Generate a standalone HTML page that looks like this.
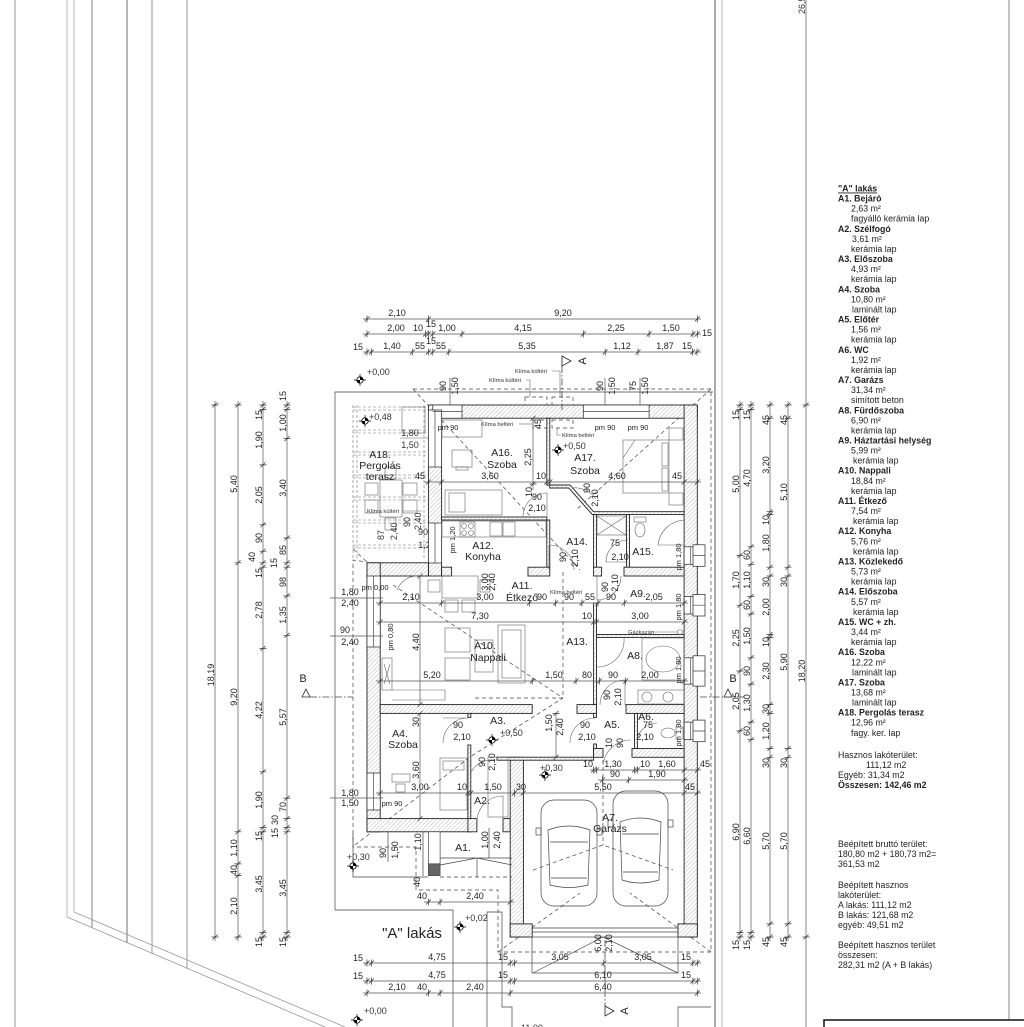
<!DOCTYPE html>
<html><head><meta charset="utf-8">
<style>
html,body{margin:0;padding:0;background:#fff}
svg{display:block}
text{font-family:"Liberation Sans",Arial,sans-serif;fill:#222}
.d{font-size:9px;fill:#333}
.s{font-size:5.8px;fill:#333}
.p{font-size:7.5px;fill:#333}
.r{font-size:10.5px;fill:#222}
.lg{font-size:8.8px;fill:#111}
.b{font-weight:bold}
.dl{stroke:#555;stroke-width:.7;fill:none}
.tk{stroke:#333;stroke-width:.7;fill:none}
.w{fill:url(#h);stroke:#222;stroke-width:.9}
.wn{fill:#fff;stroke:#222;stroke-width:.7}
.ln{stroke:#444;stroke-width:.7;fill:none}
.fn{stroke:#666;stroke-width:.6;fill:none}
.ds{stroke:#444;stroke-width:.7;fill:none;stroke-dasharray:4 3}
.dd{stroke:#444;stroke-width:.8;fill:none;stroke-dasharray:7 2 1.5 2}
</style></head><body>
<svg width="1024" height="1027" viewBox="0 0 1024 1027" xmlns="http://www.w3.org/2000/svg">
<defs>
<pattern id="h" width="3" height="3" patternUnits="userSpaceOnUse" patternTransform="rotate(45)"><rect width="3" height="3" fill="#fff"/><line x1="0" y1="0" x2="0" y2="3" stroke="#999" stroke-width="0.7"/></pattern>
<path id="th" d="M-2.5,2.5L2.5,-2.5M0,-3.5V3.5"/>
<path id="tv" d="M-2.5,2.5L2.5,-2.5M-3.5,0H3.5"/>
<g id="lv"><path d="M-6,0H6M0,-6V6" stroke="#000" stroke-width=".7"/><circle r="3.2" fill="#fff" stroke="#000" stroke-width=".8"/><path d="M0,0V-3.2A3.2,3.2 0 0 1 3.2,0ZM0,0V3.2A3.2,3.2 0 0 1 -3.2,0Z" fill="#000"/></g>
</defs>

<!-- left site lines -->
<g fill="none" stroke-width="1.2">
<line x1="15" y1="0" x2="15" y2="1027" stroke="#aaa"/>
<line x1="67" y1="0" x2="67" y2="917" stroke="#c4c4c4"/>
<line x1="74" y1="0" x2="74" y2="912" stroke="#c4c4c4"/>
<line x1="92" y1="0" x2="92" y2="928" stroke="#999"/>
<line x1="127" y1="0" x2="127" y2="943" stroke="#888"/>
<line x1="152" y1="0" x2="152" y2="954" stroke="#aaa"/>
<line x1="187" y1="0" x2="187" y2="969" stroke="#aaa"/>
<line x1="67" y1="917" x2="325" y2="1027" stroke="#999" stroke-width=".8"/>
<line x1="74" y1="912" x2="345" y2="1027" stroke="#999" stroke-width=".8"/>
</g>
<!-- right lines -->
<line x1="715" y1="0" x2="715" y2="1027" stroke="#aaa" stroke-width="2"/>
<line x1="722" y1="0" x2="722" y2="1027" stroke="#bbb" stroke-width="1"/>
<line x1="806" y1="0" x2="806" y2="1027" stroke="#555" stroke-width=".7"/>
<line x1="1009" y1="0" x2="1009" y2="1020" stroke="#888" stroke-width="1"/>
<rect x="824" y="1020" width="220" height="20" fill="none" stroke="#111" stroke-width="1.5"/>
<text class="d" transform="translate(802,14) rotate(-90)" y="3">26,50</text>

<!-- site outline -->
<path class="ln" d="M335,910V392H713"/>
<path class="ln" d="M335,910H453V1027"/>
<path class="ln" d="M487,1027V912H502V1007H512V1027"/>
<path class="ln" d="M678,1027V1007H711"/>
<!-- roof dashed -->
<path class="ds" d="M413,389H711V952H498V890H416V847H353V560L367,562"/>
<path class="ds" d="M413,389L580,570"/>
<path class="ds" d="M711,389L576,510"/>
<path class="ds" d="M393,585L563,698"/>
<path class="ds" d="M563,572V698H473"/>
<path class="ds" d="M355,845L470,757L563,698"/>
<path class="ds" d="M498,952L580,893"/>
<path class="ds" d="M711,952L630,893"/>
<path class="ds" d="M533,870L603,845L673,870"/>
<path class="ds" d="M603,760V845"/>
<path class="ds" d="M353,549L367,562"/>

<!-- pergola -->
<g stroke="#777" stroke-width=".6" fill="none" stroke-dasharray="3 2">
<path d="M353,405V560M357,405V560M424,405V560"/>
<path d="M353,407H428M353,410H428M353,430H428M353,433H428M353,452H428M353,455H428M353,475H428M353,478H428M353,497H428M353,500H428M353,520H428M353,523H428M353,545H428M353,548H428"/>
</g>
<g class="fn">
<rect x="380" y="480" width="22" height="37"/>
<rect x="365" y="483" width="13" height="12"/><rect x="365" y="500" width="13" height="13"/>
<rect x="403" y="483" width="14" height="12"/><rect x="403" y="500" width="14" height="13"/>
<rect x="385" y="467" width="11" height="12"/><rect x="385" y="518" width="11" height="12"/>
<rect x="402" y="407" width="23" height="26"/>
<path d="M400,438H428"/>
</g>
<text class="s" x="367" y="513">Klíma kültéri</text><path class="fn" d="M403,511H422"/>
<text class="d" x="410" y="436" text-anchor="middle">1,80</text>
<text class="d" x="410" y="448" text-anchor="middle">1,50</text>
<text class="r" x="380" y="458" text-anchor="middle">A18.</text>
<text class="r" x="380" y="469" text-anchor="middle">Pergolás</text>
<text class="r" x="380" y="480" text-anchor="middle">terasz</text>
<use href="#lv" x="365" y="421"/><text class="d" x="369" y="420">+0,48</text>
<text class="d" transform="translate(381,540) rotate(-90)" y="3">87</text>
<text class="d" transform="translate(394,540) rotate(-90)" y="3">2,40</text>
<text class="d" transform="translate(407,527) rotate(-90)" y="3">90</text>
<text class="d" transform="translate(418,530) rotate(-90)" y="3">2,40</text>
<text class="d" x="423" y="535" text-anchor="middle">90</text>
<text class="d" x="427" y="548" text-anchor="middle">1,20</text>

<!-- walls -->
<g class="w">
<rect x="428.4" y="405" width="268.9" height="13.2"/>
<rect x="684.1" y="405" width="13.2" height="532"/>
<rect x="428.4" y="418" width="13.2" height="158"/>
<rect x="367" y="562.8" width="61.4" height="13.2"/>
<rect x="367" y="562.8" width="13.2" height="269"/>
<rect x="367" y="818.6" width="103.8" height="13.2"/>
<rect x="467.9" y="818.6" width="9" height="13.2"/>
<rect x="503" y="818.6" width="7.2" height="13.2"/>
<rect x="510.2" y="757.3" width="13.2" height="179.7"/>
<rect x="510.2" y="923.9" width="22" height="13.1"/>
<rect x="678" y="923.9" width="19.3" height="13.1"/>
<rect x="546.8" y="418.2" width="3" height="67"/>
<rect x="441.6" y="517" width="105.2" height="3"/>
<rect x="546.8" y="520" width="3" height="47"/>
<path d="M549.8,485H570L593.6,511.7H684.1V514.6H592.3L568.7,488H549.8Z"/>
<rect x="593.6" y="514.6" width="2.9" height="52.6"/>
<rect x="626.5" y="514.6" width="3" height="52.6"/>
<rect x="441.6" y="567.2" width="10" height="8.8"/>
<rect x="528" y="567.2" width="21.8" height="8.8"/>
<rect x="593.6" y="567.2" width="8" height="8.8"/>
<rect x="624" y="567.2" width="60.1" height="8.8"/>
<rect x="593.6" y="603" width="2.9" height="101.6"/>
<rect x="596.5" y="634.5" width="87.6" height="2.9"/>
<rect x="380.2" y="704.6" width="152" height="8.8"/>
<rect x="577" y="704.6" width="19.5" height="8.8"/>
<rect x="626" y="704.6" width="58.1" height="8.8"/>
<rect x="467.9" y="713.4" width="2.9" height="4"/>
<rect x="467.9" y="745" width="2.9" height="73.6"/>
<rect x="593.6" y="713.4" width="2.9" height="4"/>
<rect x="593.6" y="744" width="2.9" height="13"/>
<rect x="634.5" y="713.4" width="2.9" height="35.1"/>
<rect x="593.6" y="748.5" width="9.4" height="8.8"/>
<rect x="632" y="748.5" width="52.1" height="8.8"/>
<rect x="497" y="757.2" width="96.6" height="3"/>
</g>
<!-- windows -->
<g class="wn">
<rect x="432.8" y="405" width="29.2" height="13.2"/>
<rect x="583.3" y="405" width="65.8" height="13.2"/>
<rect x="684.1" y="546.8" width="13.2" height="17.5"/>
<rect x="684.1" y="596.5" width="13.2" height="17.5"/>
<rect x="684.1" y="657.8" width="13.2" height="26.3"/>
<rect x="684.1" y="722.1" width="13.2" height="17.6"/>
<rect x="693" y="544.8" width="12" height="21.5"/>
<rect x="693" y="594.5" width="12" height="21.5"/>
<rect x="693" y="655.8" width="12" height="30.3"/>
<rect x="693" y="720.1" width="12" height="21.6"/>
<rect x="428.4" y="410" width="13.2" height="57"/>
<rect x="428.4" y="523" width="13.2" height="40"/>
<rect x="367" y="576" width="13.2" height="71"/>
<rect x="367" y="773" width="13.2" height="37"/>
</g>
<g class="ln">
<path d="M432.8,411.6H462M583.3,411.6H649.1M690.7,546.8V564.3M690.7,596.5V614M690.7,657.8V684.1M690.7,722.1V739.7M435,410V467M435,523V563M373.6,576V647M373.6,773V810"/>
<path d="M693,555.5H705M693,605.2H705M693,671H705M693,731H705"/>
<path d="M532,928H678M532,932H678"/>
<rect x="532" y="937" width="146" height="36"/>
<path d="M533,973L603,937L678,973"/>
</g>
<!-- outdoor/indoor units -->
<g class="ds" stroke-dasharray="3 2">
<rect x="525" y="397" width="22" height="8"/><rect x="552" y="397" width="21" height="8"/>
<rect x="533" y="420" width="14" height="8"/><rect x="552" y="420" width="21" height="8"/>
</g>
<text class="s" x="489" y="382">Klíma kültéri</text><path class="fn" d="M526,380H530V397"/>
<text class="s" x="515" y="373">Klíma kültéri</text><path class="fn" d="M552,371H560V397"/>
<text class="s" x="481" y="426">Klíma beltéri</text><path class="fn" d="M519,424H533"/>
<text class="s" x="562" y="437">Klíma beltéri</text><path class="fn" d="M557,428V435H561"/>
<text class="s" x="550" y="594">Klíma beltéri</text>
<text class="s" x="628" y="634">Gázkazán</text><circle cx="680" cy="632" r="2.5" class="fn"/><path class="fn" d="M652,632H677"/>

<!-- furniture -->
<g class="fn">
<rect x="442" y="420" width="40" height="17"/>
<rect x="452" y="450" width="20" height="17"/><rect x="456" y="467" width="12" height="3"/>
<rect x="445" y="490" width="57" height="25"/><rect x="449" y="493" width="16" height="19"/>
<rect x="623" y="440" width="46" height="53"/><rect x="662" y="443" width="6" height="23"/><rect x="662" y="468" width="6" height="23"/>
<path d="M623,458L635,440"/>
<rect x="669" y="428" width="14" height="12"/><rect x="669" y="493" width="14" height="12"/>
<rect x="597" y="516" width="29" height="19"/><path d="M597,516L626,535M626,516L597,535"/>
<rect x="634" y="517" width="12" height="5"/><ellipse cx="640" cy="530" rx="5" ry="7"/>
<path d="M684,520A28,28 0 0 0 658,545H684"/>
<rect x="442" y="521" width="104" height="16"/>
<rect x="460" y="522" width="15" height="15"/><circle cx="464" cy="526" r="2.5"/><circle cx="471" cy="526" r="2.5"/><circle cx="464" cy="533" r="2.5"/><circle cx="471" cy="533" r="2.5"/>
<rect x="490" y="522" width="12" height="14"/><rect x="503" y="522" width="12" height="14"/>
<rect x="442" y="576" width="36" height="22"/>
<rect x="445" y="600" width="13" height="12"/><rect x="462" y="600" width="13" height="12"/>
<rect x="428" y="580" width="12" height="12"/><rect x="480" y="580" width="10" height="12"/>
<rect x="445" y="628" width="25" height="24"/><rect x="445" y="658" width="25" height="22"/>
<rect x="498" y="625" width="27" height="58"/><rect x="502" y="630" width="19" height="48"/>
<rect x="475" y="640" width="18" height="32"/>
<rect x="382" y="658" width="10" height="32"/><path d="M384,664L390,684M390,664L384,684"/>
<path d="M392,690H445V700H392"/>
<rect x="642" y="638" width="42" height="42"/><ellipse cx="663" cy="659" rx="17" ry="13"/>
<path d="M597,667A27,27 0 0 0 624,638"/>
<rect x="638" y="690" width="46" height="14"/><circle cx="647" cy="697" r="5"/><circle cx="668" cy="697" r="5"/>
<rect x="676" y="727" width="7" height="12"/><ellipse cx="668" cy="733" rx="7" ry="5"/>
<rect x="440" y="758" width="27" height="52"/><rect x="443" y="761" width="21" height="9"/>
<rect x="392" y="774" width="18" height="8"/><rect x="396" y="784" width="9" height="8"/>
<rect x="488" y="757" width="20" height="60"/>
</g>
<!-- doors -->
<g class="fn">
<path d="M523,517A24,24 0 0 1 547,493M547,517V493"/>
<path d="M572,488A26,26 0 0 1 596,499"/>
<path d="M628,540A22,22 0 0 0 606,562M628,562H606"/>
<path d="M549,545A25,25 0 0 1 574,570M549,545V570"/>
<path d="M597,600A24,24 0 0 0 621,576M597,576V600"/>
<path d="M600,705A25,25 0 0 1 625,680M625,705V680"/>
<path d="M443,743A25,25 0 0 1 468,718M443,718H468"/>
<path d="M570,743A25,25 0 0 1 595,718"/>
<path d="M603,765A28,28 0 0 1 631,740"/>
<path d="M637,743A20,20 0 0 1 657,723"/>
<path d="M471,772A24,24 0 0 1 495,760"/>
<path d="M477,820A26,26 0 0 1 503,796V820"/>
<path d="M397,590A22,22 0 0 1 419,576"/>
</g>
<!-- garage cars -->
<g class="ln">
<rect x="541" y="800" width="56" height="106" rx="13"/>
<path d="M548,830Q569,822 590,830L588,885Q569,890 550,885Z"/>
<path d="M550,842H588M551,878H587"/>
<rect x="536" y="828" width="5" height="7"/><rect x="597" y="828" width="5" height="7"/>
<rect x="613" y="791" width="55" height="115" rx="13"/>
<path d="M620,822Q640,814 661,822L659,880Q640,886 622,880Z"/>
<path d="M622,834H659M623,872H658"/>
<rect x="608" y="820" width="5" height="7"/><rect x="668" y="820" width="5" height="7"/>
</g>
<!-- A1 porch -->
<g class="ln">
<rect x="428.4" y="831.8" width="11.7" height="32" fill="#fff"/>
<rect x="428.4" y="863.9" width="11.7" height="11.7" fill="#666"/>
<path d="M440,865L477,858L512,865M477,858V877M440,858H512"/>
<path d="M353,833V877H428"/>
<path d="M388,832V862M489,828V858M423,832V876"/>
</g>
<path class="ds" d="M440,877H512"/>

<!-- section marks -->
<path class="dd" d="M562,366V410"/>
<polygon points="562,356 571,361 562,366" fill="#fff" stroke="#222" stroke-width=".8"/>
<text transform="translate(582,361) rotate(-90)" text-anchor="middle" y="4" font-size="11">A</text>
<path class="dd" d="M605,940V1006"/>
<polygon points="605,1006 614,1011 605,1016" fill="#fff" stroke="#222" stroke-width=".8"/>
<text transform="translate(624,1011) rotate(-90)" text-anchor="middle" y="4" font-size="11">A</text>
<path class="dd" d="M310,697H353"/>
<polygon points="302,697 306,689 310,697" fill="#fff" stroke="#222" stroke-width=".8"/>
<text x="303" y="682" font-size="11" text-anchor="middle">B</text>
<path class="dd" d="M700,697H745"/>
<polygon points="724,697 728,689 732,697" fill="#fff" stroke="#222" stroke-width=".8"/>
<text x="733" y="682" font-size="11" text-anchor="middle">B</text>

<!-- level markers -->
<use href="#lv" x="360" y="380"/><text class="d" x="367" y="375">+0,00</text>
<use href="#lv" x="558" y="450"/><text class="d" x="563" y="449">+0,50</text>
<use href="#lv" x="492" y="740"/><text class="d" x="500" y="736">+0,50</text>
<use href="#lv" x="545" y="775"/><text class="d" x="540" y="771">+0,30</text>
<use href="#lv" x="353" y="866"/><text class="d" x="347" y="860">+0,30</text>
<use href="#lv" x="460" y="927"/><text class="d" x="465" y="921">+0,02</text>
<use href="#lv" x="357" y="1020"/><text class="d" x="364" y="1014">+0,00</text>

<!-- room labels -->
<g class="r" text-anchor="middle">
<text x="502" y="456">A16.</text><text x="502" y="468">Szoba</text>
<text x="585" y="461">A17.</text><text x="585" y="474">Szoba</text>
<text x="483" y="549">A12.</text><text x="483" y="560">Konyha</text>
<text x="577" y="545">A14.</text>
<text x="643" y="555">A15.</text>
<text x="522" y="589">A11.</text><text x="522" y="601">Étkező</text>
<text x="638" y="597">A9.</text>
<text x="485" y="649">A10.</text><text x="488" y="661">Nappali</text>
<text x="577" y="645">A13.</text>
<text x="635" y="659">A8.</text>
<text x="498" y="724">A3.</text>
<text x="612" y="728">A5.</text>
<text x="646" y="720">A6.</text>
<text x="400" y="737">A4.</text><text x="403" y="748">Szoba</text>
<text x="482" y="804">A2.</text>
<text x="610" y="821">A7.</text><text x="610" y="832">Garázs</text>
<text x="463" y="851">A1.</text>
</g>
<text x="412" y="938" font-size="15" text-anchor="middle">"A" lakás</text>

<!-- small labels -->
<g class="p" text-anchor="middle">
<text x="448" y="430">pm 90</text><text x="605" y="430">pm 90</text><text x="638" y="430">pm 90</text>
<text x="392" y="806">pm 90</text><text x="375" y="590">pm 0,00</text>
</g>
<g class="p" text-anchor="middle">
<text transform="translate(452,540) rotate(-90)" y="3">pm 1,20</text>
<text transform="translate(390,637) rotate(-90)" y="3">pm 0,80</text>
<text transform="translate(678,557) rotate(-90)" y="3">pm 1,80</text>
<text transform="translate(678,607) rotate(-90)" y="3">pm 1,80</text>
<text transform="translate(678,670) rotate(-90)" y="3">pm 1,80</text>
<text transform="translate(678,733) rotate(-90)" y="3">pm 1,80</text>
</g>

<!-- dimension lines -->
<g class="dl">
<path d="M363,319H701M363,334H701M363,352H701"/>
<path d="M363,963H701M363,981H701M363,993H701"/>
<path d="M215,401V941M238,401V941M263,401V941M287,401V941"/>
<path d="M740,401V941M751,401V941M770,401V941M788,401V941"/>
<path d="M424,482H701M376,603H688M376,622H688M376,681H688M590,770H701M598,780H688M376,793H701"/>
<path d="M533,418V490M420,576V705M420,713V819M556,713V757M450,378V405M605,378V405M640,378V405"/>
<path d="M330,598H383M330,636H383M330,798H383"/>
<path d="M424,902H514"/>
</g>
<g class="tk">
<use href="#th" x="367" y="319"/><use href="#th" x="428.4" y="319"/><use href="#th" x="697.3" y="319"/>
<use href="#th" x="367" y="334"/><use href="#th" x="425.5" y="334"/><use href="#th" x="428.4" y="334"/><use href="#th" x="432.8" y="334"/><use href="#th" x="462" y="334"/><use href="#th" x="583.3" y="334"/><use href="#th" x="649.1" y="334"/><use href="#th" x="692.9" y="334"/><use href="#th" x="697.3" y="334"/>
<use href="#th" x="367" y="352"/><use href="#th" x="371.4" y="352"/><use href="#th" x="412.3" y="352"/><use href="#th" x="428.4" y="352"/><use href="#th" x="432.8" y="352"/><use href="#th" x="448.8" y="352"/><use href="#th" x="605.2" y="352"/><use href="#th" x="638" y="352"/><use href="#th" x="692.6" y="352"/><use href="#th" x="697" y="352"/>
<use href="#th" x="367" y="963"/><use href="#th" x="371.4" y="963"/><use href="#th" x="510.2" y="963"/><use href="#th" x="514.6" y="963"/><use href="#th" x="603.8" y="963"/><use href="#th" x="692.9" y="963"/><use href="#th" x="697.3" y="963"/>
<use href="#th" x="367" y="981"/><use href="#th" x="371.4" y="981"/><use href="#th" x="510.2" y="981"/><use href="#th" x="514.6" y="981"/><use href="#th" x="692.9" y="981"/><use href="#th" x="697.3" y="981"/>
<use href="#th" x="367" y="993"/><use href="#th" x="428.4" y="993"/><use href="#th" x="440.1" y="993"/><use href="#th" x="510.2" y="993"/><use href="#th" x="697.3" y="993"/>
<use href="#th" x="428.4" y="482"/><use href="#th" x="441.6" y="482"/><use href="#th" x="546.8" y="482"/><use href="#th" x="549.8" y="482"/><use href="#th" x="684.1" y="482"/><use href="#th" x="697.3" y="482"/>
<use href="#th" x="380.2" y="603"/><use href="#th" x="441.6" y="603"/><use href="#th" x="529.3" y="603"/><use href="#th" x="555.6" y="603"/><use href="#th" x="581.9" y="603"/><use href="#th" x="598" y="603"/><use href="#th" x="624.3" y="603"/><use href="#th" x="684.2" y="603"/>
<use href="#th" x="380.2" y="622"/><use href="#th" x="593.6" y="622"/><use href="#th" x="596.5" y="622"/><use href="#th" x="684.2" y="622"/>
<use href="#th" x="380.2" y="681"/><use href="#th" x="532.2" y="681"/><use href="#th" x="576" y="681"/><use href="#th" x="599.4" y="681"/><use href="#th" x="625.7" y="681"/><use href="#th" x="684.2" y="681"/>
<use href="#th" x="593.6" y="770"/><use href="#th" x="596.5" y="770"/><use href="#th" x="634.5" y="770"/><use href="#th" x="637.4" y="770"/><use href="#th" x="684.2" y="770"/><use href="#th" x="697.3" y="770"/>
<use href="#th" x="602.4" y="780"/><use href="#th" x="628.7" y="780"/><use href="#th" x="684.2" y="780"/>
<use href="#th" x="380.2" y="793"/><use href="#th" x="467.9" y="793"/><use href="#th" x="470.8" y="793"/><use href="#th" x="514.6" y="793"/><use href="#th" x="523.4" y="793"/><use href="#th" x="684.2" y="793"/><use href="#th" x="697.3" y="793"/>
<use href="#th" x="428.4" y="902"/><use href="#th" x="440.1" y="902"/><use href="#th" x="510.2" y="902"/>
<use href="#tv" x="215" y="405"/><use href="#tv" x="215" y="937"/>
<use href="#tv" x="238" y="405"/><use href="#tv" x="238" y="562.8"/><use href="#tv" x="238" y="831.8"/><use href="#tv" x="238" y="863.9"/><use href="#tv" x="238" y="875.6"/><use href="#tv" x="238" y="937"/>
<use href="#tv" x="263" y="405"/><use href="#tv" x="263" y="409.4"/><use href="#tv" x="263" y="464.9"/><use href="#tv" x="263" y="524.8"/><use href="#tv" x="263" y="551.2"/><use href="#tv" x="263" y="562.8"/><use href="#tv" x="263" y="567.2"/><use href="#tv" x="263" y="648.5"/><use href="#tv" x="263" y="771.8"/><use href="#tv" x="263" y="827.4"/><use href="#tv" x="263" y="831.8"/><use href="#tv" x="263" y="932.6"/><use href="#tv" x="263" y="937"/>
<use href="#tv" x="287" y="405"/><use href="#tv" x="287" y="409.4"/><use href="#tv" x="287" y="438.6"/><use href="#tv" x="287" y="538"/><use href="#tv" x="287" y="562.8"/><use href="#tv" x="287" y="567.2"/><use href="#tv" x="287" y="595.9"/><use href="#tv" x="287" y="635.3"/><use href="#tv" x="287" y="798.1"/><use href="#tv" x="287" y="818.6"/><use href="#tv" x="287" y="827.4"/><use href="#tv" x="287" y="831.8"/><use href="#tv" x="287" y="932.6"/><use href="#tv" x="287" y="937"/>
<use href="#tv" x="740" y="405"/><use href="#tv" x="740" y="409.4"/><use href="#tv" x="740" y="555.5"/><use href="#tv" x="740" y="605.2"/><use href="#tv" x="740" y="671"/><use href="#tv" x="740" y="730.9"/><use href="#tv" x="740" y="932.6"/><use href="#tv" x="740" y="937"/>
<use href="#tv" x="751" y="405"/><use href="#tv" x="751" y="409.4"/><use href="#tv" x="751" y="546.8"/><use href="#tv" x="751" y="564.3"/><use href="#tv" x="751" y="596.5"/><use href="#tv" x="751" y="614"/><use href="#tv" x="751" y="657.8"/><use href="#tv" x="751" y="684.1"/><use href="#tv" x="751" y="722.1"/><use href="#tv" x="751" y="739.7"/><use href="#tv" x="751" y="932.6"/><use href="#tv" x="751" y="937"/>
<use href="#tv" x="770" y="405"/><use href="#tv" x="770" y="418.2"/><use href="#tv" x="770" y="511.7"/><use href="#tv" x="770" y="514.6"/><use href="#tv" x="770" y="567.2"/><use href="#tv" x="770" y="576"/><use href="#tv" x="770" y="634.5"/><use href="#tv" x="770" y="637.4"/><use href="#tv" x="770" y="704.6"/><use href="#tv" x="770" y="713.4"/><use href="#tv" x="770" y="748.5"/><use href="#tv" x="770" y="757.3"/><use href="#tv" x="770" y="923.9"/><use href="#tv" x="770" y="937"/>
<use href="#tv" x="788" y="405"/><use href="#tv" x="788" y="418.2"/><use href="#tv" x="788" y="567.2"/><use href="#tv" x="788" y="576"/><use href="#tv" x="788" y="748.5"/><use href="#tv" x="788" y="757.3"/><use href="#tv" x="788" y="923.9"/><use href="#tv" x="788" y="937"/>
<use href="#tv" x="806" y="405"/><use href="#tv" x="806" y="937"/>
<use href="#tv" x="533" y="418.2"/><use href="#tv" x="533" y="484"/>
<use href="#tv" x="420" y="576"/><use href="#tv" x="420" y="704.6"/><use href="#tv" x="420" y="713.4"/><use href="#tv" x="420" y="818.6"/>
<use href="#tv" x="556" y="713.4"/><use href="#tv" x="556" y="757.2"/>
</g>

<!-- dimension texts: horizontal -->
<g class="d" text-anchor="middle">
<text x="397" y="316">2,10</text><text x="563" y="316">9,20</text>
<text x="396" y="331">2,00</text><text x="418" y="331">10</text><text x="431" y="327">15</text><text x="447" y="331">1,00</text><text x="523" y="331">4,15</text><text x="616" y="331">2,25</text><text x="671" y="331">1,50</text><text x="707" y="336">15</text>
<text x="358" y="350">15</text><text x="392" y="349">1,40</text><text x="420" y="349">55</text><text x="431" y="344">15</text><text x="441" y="349">55</text><text x="527" y="349">5,35</text><text x="622" y="349">1,12</text><text x="665" y="349">1,87</text><text x="687" y="349">15</text>
<text x="358" y="961">15</text><text x="437" y="960">4,75</text><text x="503" y="960">15</text><text x="560" y="960">3,05</text><text x="643" y="960">3,05</text><text x="686" y="960">15</text>
<text x="358" y="979">15</text><text x="437" y="978">4,75</text><text x="503" y="978">15</text><text x="603" y="978">6,10</text><text x="686" y="978">15</text>
<text x="397" y="990">2,10</text><text x="422" y="990">40</text><text x="475" y="990">2,40</text><text x="603" y="990">6,40</text>
<text x="420" y="479">45</text><text x="490" y="479">3,60</text><text x="541" y="479">10</text><text x="617" y="479">4,60</text><text x="677" y="479">45</text>
<text x="411" y="600">2,10</text><text x="485" y="600">3,00</text><text x="542" y="600">90</text><text x="569" y="600">90</text><text x="590" y="600">55</text><text x="611" y="600">90</text><text x="654" y="600">2,05</text>
<text x="480" y="619">7,30</text><text x="587" y="619">10</text><text x="640" y="619">3,00</text>
<text x="432" y="678">5,20</text><text x="554" y="678">1,50</text><text x="587" y="678">80</text><text x="613" y="678">90</text><text x="650" y="678">2,00</text>
<text x="588" y="767">10</text><text x="613" y="767">1,30</text><text x="645" y="767">10</text><text x="667" y="767">1,60</text><text x="705" y="767">45</text>
<text x="615" y="777">90</text><text x="657" y="777">1,90</text>
<text x="420" y="790">3,00</text><text x="462" y="790">10</text><text x="493" y="790">1,50</text><text x="521" y="790">30</text><text x="603" y="790">5,50</text><text x="690" y="790">45</text>
<text x="422" y="899">40</text><text x="475" y="899">2,40</text>
<text x="350" y="595">1,80</text><text x="350" y="606">2,40</text>
<text x="345" y="633">90</text><text x="350" y="645">2,40</text>
<text x="350" y="796">1,80</text><text x="350" y="806">1,50</text>
<text x="537" y="500">90</text><text x="537" y="511">2,10</text>
<text x="615" y="546">75</text><text x="620" y="560">2,10</text>
<text x="458" y="728">90</text><text x="462" y="740">2,10</text>
<text x="585" y="728">90</text><text x="587" y="740">2,10</text>
<text x="648" y="728">75</text><text x="645" y="740">2,10</text>
</g>
<!-- dimension texts: vertical -->
<g class="d" text-anchor="middle">
<text transform="translate(211,675) rotate(-90)" y="3">18,19</text>
<text transform="translate(234,484) rotate(-90)" y="3">5,40</text>
<text transform="translate(234,697) rotate(-90)" y="3">9,20</text>
<text transform="translate(234,848) rotate(-90)" y="3">1,10</text>
<text transform="translate(234,870) rotate(-90)" y="3">40</text>
<text transform="translate(234,906) rotate(-90)" y="3">2,10</text>
<text transform="translate(259,415) rotate(-90)" y="3">15</text>
<text transform="translate(259,440) rotate(-90)" y="3">1,90</text>
<text transform="translate(259,495) rotate(-90)" y="3">2,05</text>
<text transform="translate(259,538) rotate(-90)" y="3">90</text>
<text transform="translate(252,557) rotate(-90)" y="3">40</text>
<text transform="translate(259,573) rotate(-90)" y="3">15</text>
<text transform="translate(259,610) rotate(-90)" y="3">2,78</text>
<text transform="translate(259,710) rotate(-90)" y="3">4,22</text>
<text transform="translate(259,800) rotate(-90)" y="3">1,90</text>
<text transform="translate(259,836) rotate(-90)" y="3">15</text>
<text transform="translate(259,884) rotate(-90)" y="3">3,45</text>
<text transform="translate(259,942) rotate(-90)" y="3">15</text>
<text transform="translate(283,396) rotate(-90)" y="3">15</text>
<text transform="translate(283,423) rotate(-90)" y="3">1,00</text>
<text transform="translate(283,488) rotate(-90)" y="3">3,40</text>
<text transform="translate(283,550) rotate(-90)" y="3">85</text>
<text transform="translate(274,563) rotate(-90)" y="3">15</text>
<text transform="translate(283,582) rotate(-90)" y="3">98</text>
<text transform="translate(283,615) rotate(-90)" y="3">1,35</text>
<text transform="translate(283,717) rotate(-90)" y="3">5,57</text>
<text transform="translate(283,807) rotate(-90)" y="3">70</text>
<text transform="translate(275,820) rotate(-90)" y="3">30</text>
<text transform="translate(275,833) rotate(-90)" y="3">15</text>
<text transform="translate(283,888) rotate(-90)" y="3">3,45</text>
<text transform="translate(283,942) rotate(-90)" y="3">15</text>
<text transform="translate(736,415) rotate(-90)" y="3">15</text>
<text transform="translate(736,484) rotate(-90)" y="3">5,00</text>
<text transform="translate(736,580) rotate(-90)" y="3">1,70</text>
<text transform="translate(736,638) rotate(-90)" y="3">2,25</text>
<text transform="translate(736,701) rotate(-90)" y="3">2,05</text>
<text transform="translate(736,832) rotate(-90)" y="3">6,90</text>
<text transform="translate(736,945) rotate(-90)" y="3">15</text>
<text transform="translate(747,415) rotate(-90)" y="3">15</text>
<text transform="translate(747,478) rotate(-90)" y="3">4,70</text>
<text transform="translate(747,555) rotate(-90)" y="3">60</text>
<text transform="translate(747,580) rotate(-90)" y="3">1,10</text>
<text transform="translate(747,605) rotate(-90)" y="3">60</text>
<text transform="translate(747,636) rotate(-90)" y="3">1,50</text>
<text transform="translate(747,671) rotate(-90)" y="3">90</text>
<text transform="translate(747,703) rotate(-90)" y="3">1,30</text>
<text transform="translate(747,731) rotate(-90)" y="3">60</text>
<text transform="translate(747,836) rotate(-90)" y="3">6,60</text>
<text transform="translate(747,945) rotate(-90)" y="3">15</text>
<text transform="translate(766,420) rotate(-90)" y="3">45</text>
<text transform="translate(766,465) rotate(-90)" y="3">3,20</text>
<text transform="translate(766,520) rotate(-90)" y="3">10</text>
<text transform="translate(766,543) rotate(-90)" y="3">1,80</text>
<text transform="translate(766,582) rotate(-90)" y="3">30</text>
<text transform="translate(766,607) rotate(-90)" y="3">2,00</text>
<text transform="translate(766,642) rotate(-90)" y="3">10</text>
<text transform="translate(766,671) rotate(-90)" y="3">2,30</text>
<text transform="translate(766,709) rotate(-90)" y="3">30</text>
<text transform="translate(766,731) rotate(-90)" y="3">1,20</text>
<text transform="translate(766,763) rotate(-90)" y="3">30</text>
<text transform="translate(766,841) rotate(-90)" y="3">5,70</text>
<text transform="translate(766,942) rotate(-90)" y="3">45</text>
<text transform="translate(784,420) rotate(-90)" y="3">45</text>
<text transform="translate(784,492) rotate(-90)" y="3">5,10</text>
<text transform="translate(784,582) rotate(-90)" y="3">30</text>
<text transform="translate(784,662) rotate(-90)" y="3">5,90</text>
<text transform="translate(784,763) rotate(-90)" y="3">30</text>
<text transform="translate(784,841) rotate(-90)" y="3">5,70</text>
<text transform="translate(784,942) rotate(-90)" y="3">45</text>
<text transform="translate(802,671) rotate(-90)" y="3">18,20</text>
<text transform="translate(443,386) rotate(-90)" y="3">90</text>
<text transform="translate(455,386) rotate(-90)" y="3">1,50</text>
<text transform="translate(600,386) rotate(-90)" y="3">90</text>
<text transform="translate(612,386) rotate(-90)" y="3">1,50</text>
<text transform="translate(633,386) rotate(-90)" y="3">75</text>
<text transform="translate(645,386) rotate(-90)" y="3">1,50</text>
<text transform="translate(538,424) rotate(-90)" y="3">45</text>
<text transform="translate(528,457) rotate(-90)" y="3">2,25</text>
<text transform="translate(529,492) rotate(-90)" y="3">10</text>
<text transform="translate(587,488) rotate(-90)" y="3">90</text>
<text transform="translate(595,498) rotate(-90)" y="3">2,10</text>
<text transform="translate(563,557) rotate(-90)" y="3">90</text>
<text transform="translate(575,558) rotate(-90)" y="3">2,10</text>
<text transform="translate(485,582) rotate(-90)" y="3">3,00</text>
<text transform="translate(492,582) rotate(-90)" y="3">2,40</text>
<text transform="translate(605,587) rotate(-90)" y="3">90</text>
<text transform="translate(615,583) rotate(-90)" y="3">2,10</text>
<text transform="translate(416,642) rotate(-90)" y="3">4,40</text>
<text transform="translate(607,695) rotate(-90)" y="3">90</text>
<text transform="translate(618,697) rotate(-90)" y="3">2,10</text>
<text transform="translate(416,722) rotate(-90)" y="3">30</text>
<text transform="translate(549,723) rotate(-90)" y="3">1,50</text>
<text transform="translate(560,727) rotate(-90)" y="3">2,40</text>
<text transform="translate(609,743) rotate(-90)" y="3">10</text>
<text transform="translate(620,743) rotate(-90)" y="3">90</text>
<text transform="translate(482,762) rotate(-90)" y="3">90</text>
<text transform="translate(492,762) rotate(-90)" y="3">2,10</text>
<text transform="translate(416,770) rotate(-90)" y="3">3,60</text>
<text transform="translate(418,842) rotate(-90)" y="3">1,10</text>
<text transform="translate(485,840) rotate(-90)" y="3">1,00</text>
<text transform="translate(497,840) rotate(-90)" y="3">2,40</text>
<text transform="translate(383,853) rotate(-90)" y="3">90</text>
<text transform="translate(395,850) rotate(-90)" y="3">1,50</text>
<text transform="translate(417,882) rotate(-90)" y="3">40</text>
<text transform="translate(598,943) rotate(-90)" y="3">6,00</text>
<text transform="translate(609,943) rotate(-90)" y="3">2,10</text>
</g>
<text class="d" x="521" y="1031">11,00</text>

<!-- legend -->
<g class="lg">
<text x="838" y="191.5" class="b" text-decoration="underline">"A" lakás</text>
<text x="838" y="201.6" class="b">A1.  Bejáró</text>
<text x="851" y="211.7">2,63 m²</text>
<text x="851" y="221.7">fagyálló kerámia lap</text>
<text x="838" y="231.8" class="b">A2.  Szélfogó</text>
<text x="852" y="241.9">3,61 m²</text>
<text x="851" y="252">kerámia lap</text>
<text x="838" y="262.1" class="b">A3.  Előszoba</text>
<text x="851" y="272.1">4,93 m²</text>
<text x="851" y="282.2">kerámia lap</text>
<text x="838" y="292.3" class="b">A4.  Szoba</text>
<text x="851" y="302.4">10,80 m²</text>
<text x="852" y="312.5">laminált lap</text>
<text x="838" y="322.5" class="b">A5. Előtér</text>
<text x="851" y="332.6">1,56 m²</text>
<text x="851" y="342.7">kerámia lap</text>
<text x="838" y="352.8" class="b">A6.  WC</text>
<text x="851" y="362.9">1,92 m²</text>
<text x="851" y="372.9">kerámia lap</text>
<text x="838" y="383" class="b">A7.  Garázs</text>
<text x="851" y="393.1">31,34 m²</text>
<text x="851" y="403.2">simított beton</text>
<text x="838" y="413.3" class="b">A8.  Fürdőszoba</text>
<text x="851" y="423.3">6,90 m²</text>
<text x="851" y="433.4">kerámia lap</text>
<text x="838" y="443.5" class="b">A9.  Háztartási helység</text>
<text x="851" y="453.6">5,99 m²</text>
<text x="853" y="463.7">kerámia lap</text>
<text x="838" y="473.7" class="b">A10. Nappali</text>
<text x="851" y="483.8">18,84 m²</text>
<text x="851" y="493.9">kerámia lap</text>
<text x="838" y="504" class="b">A11. Étkező</text>
<text x="851" y="514.1">7,54 m²</text>
<text x="853" y="524.1">kerámia lap</text>
<text x="838" y="534.2" class="b">A12. Konyha</text>
<text x="851" y="544.3">5,76 m²</text>
<text x="853" y="554.4">kerámia lap</text>
<text x="838" y="564.5" class="b">A13. Közlekedő</text>
<text x="851" y="574.5">5,73 m²</text>
<text x="851" y="584.6">kerámia lap</text>
<text x="838" y="594.7" class="b">A14. Előszoba</text>
<text x="851" y="604.8">5,57 m²</text>
<text x="853" y="614.9">kerámia lap</text>
<text x="838" y="624.9" class="b">A15. WC + zh.</text>
<text x="851" y="635">3,44 m²</text>
<text x="851" y="645.1">kerámia lap</text>
<text x="838" y="655.2" class="b">A16.  Szoba</text>
<text x="851" y="665.3">12,22 m²</text>
<text x="852" y="675.3">laminált lap</text>
<text x="838" y="685.4" class="b">A17. Szoba</text>
<text x="851" y="695.5">13,68 m²</text>
<text x="852" y="705.6">laminált lap</text>
<text x="838" y="715.7" class="b">A18. Pergolás terasz</text>
<text x="851" y="725.7">12,96 m²</text>
<text x="851" y="735.8">fagy. ker. lap</text>
<text x="838" y="758">Hasznos lakóterület:</text>
<text x="866" y="768">111,12 m2</text>
<text x="838" y="778">Egyéb: 31,34 m2</text>
<text x="838" y="788" class="b">Összesen: 142,46 m2</text>
<text x="838" y="847">Beépített bruttó terület:</text>
<text x="838" y="857">180,80 m2 + 180,73 m2=</text>
<text x="838" y="867">361,53 m2</text>
<text x="838" y="888">Beépített hasznos</text>
<text x="838" y="898">lakóterület:</text>
<text x="838" y="908">A lakás: 111,12 m2</text>
<text x="838" y="918">B lakás: 121,68 m2</text>
<text x="838" y="928">egyéb: 49,51 m2</text>
<text x="838" y="948">Beépített hasznos terület</text>
<text x="838" y="958">összesen:</text>
<text x="838" y="968">282,31 m2 (A + B lakás)</text>
</g>
</svg>
</body></html>
